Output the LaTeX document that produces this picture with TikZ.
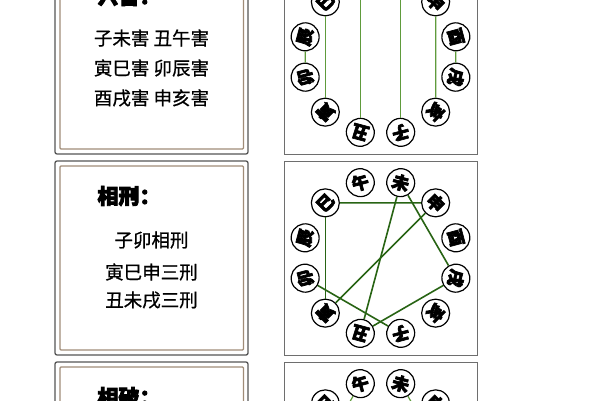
\documentclass[tikz,border=0pt]{standalone}
\usepackage{fontspec}
\newfontfamily\cjk[FakeBold=0.8]{Noto Sans CJK SC}
\newfontfamily\cjkh[FakeBold=5,BoldFeatures={FakeBold=4}]{Noto Sans CJK SC}
\definecolor{outerc}{RGB}{85,85,85}
\definecolor{innerc}{RGB}{160,140,120}
\definecolor{rightc}{RGB}{110,110,110}
\definecolor{lightg}{RGB}{95,155,60}
\definecolor{darkg}{RGB}{40,100,20}
\tikzset{
  outerbox/.style={draw=outerc,line width=1.3pt,rounded corners=2pt},
  innerbox/.style={draw=innerc,line width=1.3pt,rounded corners=1pt},
  rightbox/.style={draw=rightc,line width=1pt},
  branch/.style={circle,draw=black,line width=1.2pt,fill=white,minimum size=28pt,inner sep=0pt,font=\cjkh\bfseries\fontsize{17}{17}\selectfont},
  titletext/.style={anchor=west,font=\cjkh\bfseries\fontsize{21}{21}\selectfont},
  bodytext/.style={font=\cjk\fontsize{18.5}{18.5}\selectfont},
  lline/.style={draw=lightg,line width=1.2pt},
  dline/.style={draw=darkg,line width=1.6pt}
}
\newcommand\drawwheel[2]{%
  \foreach \i/\c in {0/子,1/丑,2/寅,3/卯,4/辰,5/巳,6/午,7/未,8/申,9/酉,10/戌,11/亥}{%
    \pgfmathsetmacro\ang{-75-30*\i}
    \path (380.5,#2) ++(\ang:78) node[branch,rotate=\ang-90] (#1\i) {\c};
  }%
}
\newcommand\drawpanel[1]{%
  \draw[outerbox] (55,#1) rectangle (248,#1-194);
  \draw[innerbox] (60,#1-5) rectangle (243.5,#1-189);
  \draw[rightbox] (284,#1) rectangle (477,#1-194);
}
\begin{document}
\begin{tikzpicture}[x=1pt,y=1pt]
\useasboundingbox (0,0) rectangle (600,400);
\clip (0,0) rectangle (600,400);
\fill[white] (0,0) rectangle (600,400);
% panels
\drawpanel{440}
\drawpanel{239}
\drawpanel{38}
% top panel
\node[titletext] (t0) at (94,404) {六害：};
\node[bodytext] (l01) at (151.5,362) {子未害 丑午害};
\node[bodytext] (l02) at (151.5,332) {寅巳害 卯辰害};
\node[bodytext] (l03) at (151.5,302) {酉戌害 申亥害};
\drawwheel{a}{343}
\draw[lline] (a0) -- (a7);
\draw[lline] (a1) -- (a6);
\draw[lline] (a2) -- (a5);
\draw[lline] (a3) -- (a4);
\draw[lline] (a8) -- (a11);
\draw[lline] (a9) -- (a10);
% middle panel
\node[titletext] (t1) at (94,204) {相刑：};
\node[bodytext] (l11) at (151.5,160) {子卯相刑};
\node[bodytext] (l12) at (151.5,128) {寅巳申三刑};
\node[bodytext] (l13) at (151.5,100) {丑未戌三刑};
\drawwheel{b}{142}
\draw[dline] (b0) -- (b3);
\draw[dline] (b2) -- (b5);
\draw[dline] (b5) -- (b8);
\draw[dline] (b8) -- (b2);
\draw[dline] (b1) -- (b7);
\draw[dline] (b7) -- (b10);
\draw[dline] (b10) -- (b1);
% bottom panel
\node[titletext] (t2) at (94,3) {相破：};
\drawwheel{c}{-59}
\draw[lline] (c0) -- (c9);
\draw[lline] (c1) -- (c4);
\draw[lline] (c2) -- (c11);
\draw[lline] (c3) -- (c6);
\draw[lline] (c5) -- (c8);
\draw[lline] (c7) -- (c10);
\end{tikzpicture}
\end{document}
